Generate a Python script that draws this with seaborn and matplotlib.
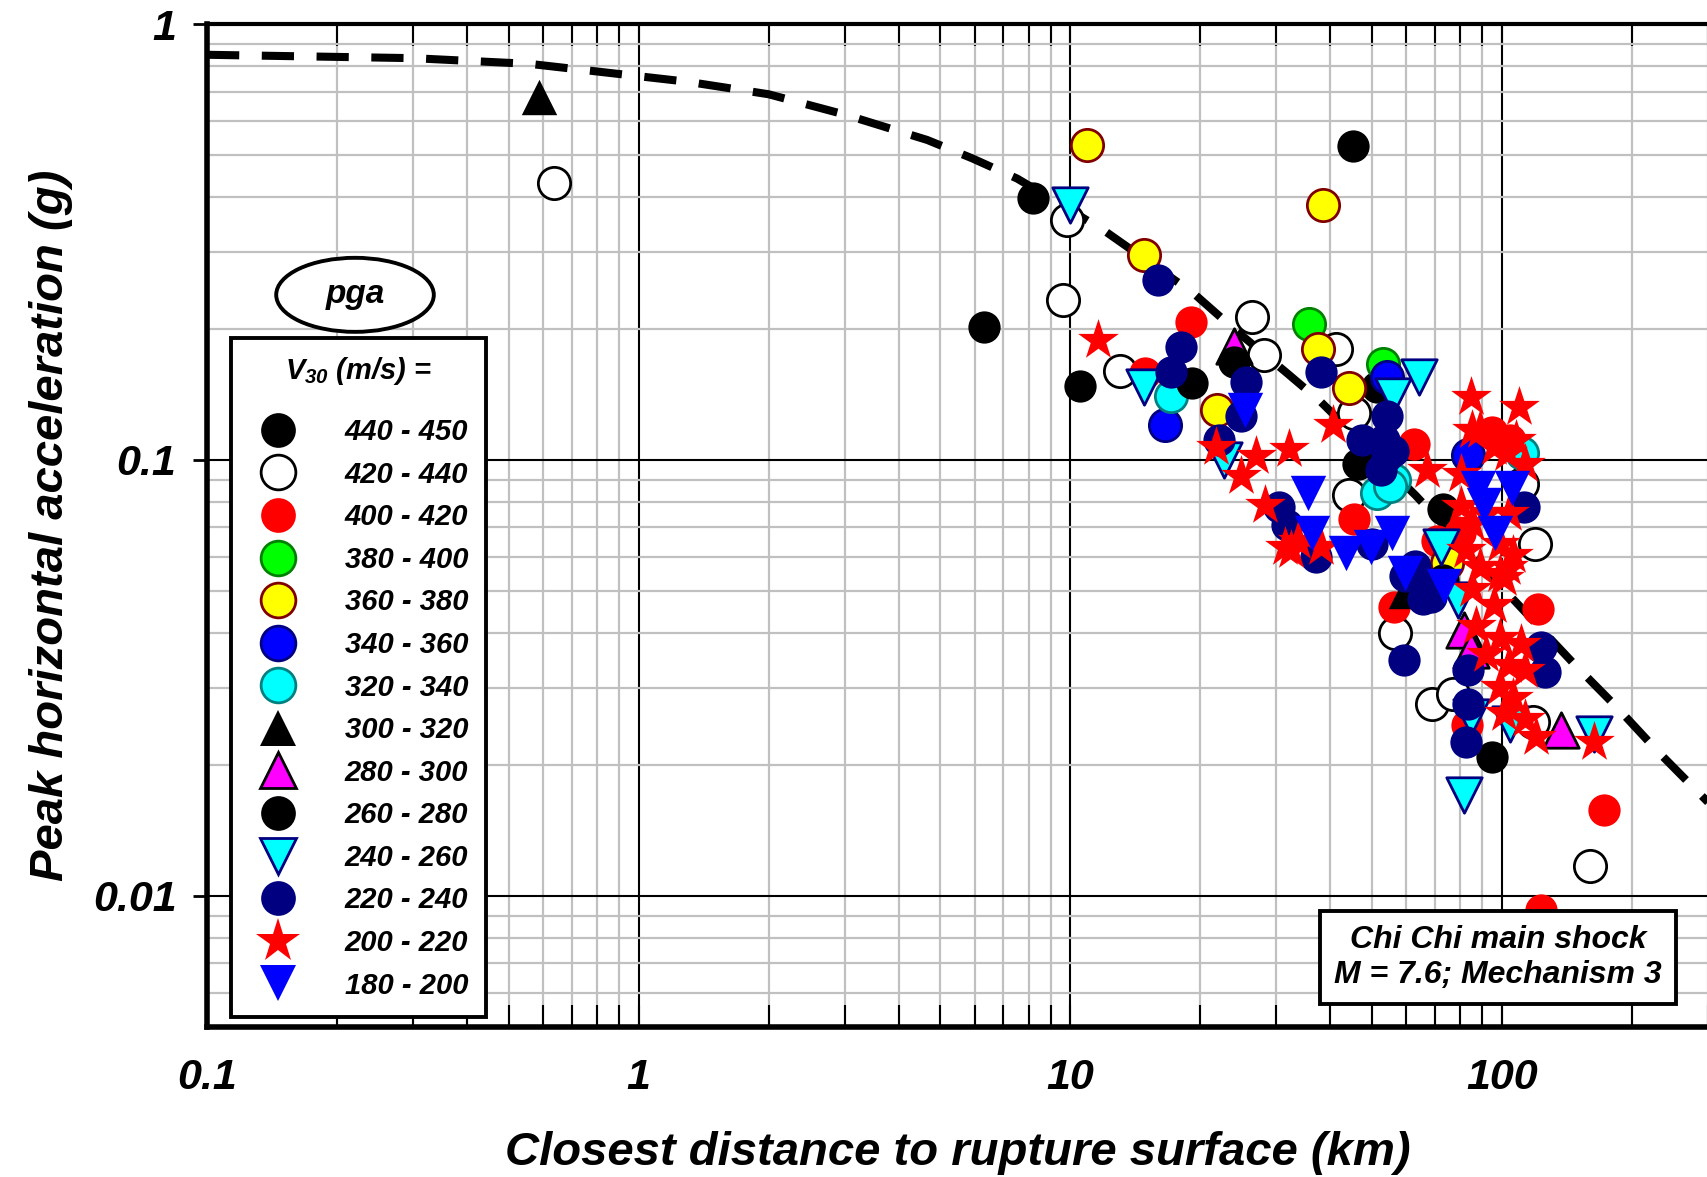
import numpy as np
import matplotlib
matplotlib.use('Agg')
import matplotlib.pyplot as plt
import seaborn as sns
from matplotlib.lines import Line2D
from matplotlib.patches import Ellipse
from matplotlib.ticker import LogLocator, FixedLocator, FixedFormatter, NullFormatter

# ---------------- data ----------------
x_ticks = [0.1, 1, 10, 100]
x_tick_labels = ['0.1', '1', '10', '100']
y_ticks = [0.01, 0.1, 1]
y_tick_labels = ['0.01', '0.1', '1']

dist_curve = [0.1, 0.3, 0.56, 1.3, 2.0, 3.0, 4.66, 5.92, 7.53, 10.0, 12.07, 19.3, 23.9, 31.8, 38.0,
              63.0, 100.0, 147.0, 185.0, 230.0, 300.0]
pga_curve = [0.85, 0.835, 0.81, 0.737, 0.69, 0.62, 0.542, 0.492, 0.442, 0.374, 0.334, 0.241, 0.20, 0.158,
             0.136, 0.083, 0.051, 0.034, 0.027, 0.0214, 0.0164]

d_440 = [45.2, 6.3, 10.5, 51.4, 72.8]
p_440 = [0.526, 0.202, 0.148, 0.147, 0.077]

d_420 = [0.636, 9.8, 9.6, 13.0, 26.4, 28.1, 41.2, 45.4, 44.2, 56.6, 69.0, 77.0, 111.4, 119.0, 160.0, 118.0]
p_420 = [0.431, 0.355, 0.233, 0.160, 0.213, 0.174, 0.180, 0.128, 0.083, 0.040, 0.0276, 0.029, 0.088, 0.064,
         0.0117, 0.025]

d_400 = [19.0, 14.9, 62.5, 45.4, 56.3, 70.7, 95.0, 104.6, 120.9, 83.0, 172.0, 123.0, 80.0]
p_400 = [0.207, 0.158, 0.109, 0.073, 0.046, 0.065, 0.116, 0.111, 0.0456, 0.0246, 0.0157, 0.0093, 0.068]

d_380 = [35.7, 53.0]
p_380 = [0.205, 0.166]

d_360 = [10.9, 38.4, 14.8, 37.5, 44.2, 21.9, 74.6]
p_360 = [0.527, 0.384, 0.295, 0.180, 0.146, 0.130, 0.058]

d_340 = [16.6, 54.2, 83.2]
p_340 = [0.120, 0.155, 0.1025]

d_320 = [17.1, 51.2, 56.3, 111.4, 55.0]
p_320 = [0.140, 0.084, 0.090, 0.1035, 0.087]

d_300 = [0.588, 60.0]
p_300 = [0.68, 0.050]

d_280 = [24.0, 81.7, 84.7, 137.0]
p_280 = [0.183, 0.0407, 0.0366, 0.024]

d_260 = [8.2, 19.1, 24.0, 46.5, 95.0, 73.0]
p_260 = [0.398, 0.150, 0.168, 0.098, 0.0208, 0.053]

d_240 = [10.0, 14.8, 22.7, 56.0, 64.3, 72.3, 78.9, 84.7, 104.6, 163.0, 81.7]
p_240 = [0.384, 0.147, 0.100, 0.140, 0.155, 0.063, 0.0476, 0.0257, 0.0248, 0.0235, 0.017]

d_220 = [16.0, 18.0, 17.1, 25.5, 24.8, 22.1, 38.0, 30.4, 31.8, 37.0, 54.2, 47.5, 53.3, 54.0, 52.5, 56.0,
         59.3, 59.6, 68.7, 63.0, 83.2, 83.2, 82.5, 123.0, 126.0, 112.4, 50.0, 68.4, 65.5]
p_220 = [0.258, 0.182, 0.159, 0.151, 0.126, 0.111, 0.159, 0.078, 0.071, 0.060, 0.126, 0.111, 0.111, 0.102,
         0.095, 0.105, 0.0347, 0.0543, 0.0507, 0.057, 0.033, 0.0276, 0.0225, 0.0372, 0.0327, 0.078, 0.064,
         0.0485, 0.048]

d_200 = [11.6, 21.8, 26.9, 32.1, 24.8, 28.3, 33.6, 31.5, 38.0, 40.5, 67.1, 84.7, 109.6, 85.3, 108.0,
         102.8, 163.0, 80.4, 85.0, 91.7, 104.0, 98.8, 82.4, 106.0, 89.1, 101.0, 85.0, 95.6, 87.0, 98.8,
         110.6, 91.6, 104.0, 112.8, 98.8, 106.0, 101.0, 112.8, 120.0, 80.4, 89.0, 95.6, 112.8, 32.4,
         99.0, 103.0]
p_200 = [0.188, 0.107, 0.102, 0.106, 0.092, 0.079, 0.065, 0.063, 0.063, 0.120, 0.095, 0.1395, 0.132, 0.117,
         0.111, 0.1035, 0.0225, 0.0782, 0.0718, 0.0757, 0.0757, 0.064, 0.0623, 0.0604, 0.0569, 0.0537,
         0.0507, 0.0465, 0.0415, 0.039, 0.0379, 0.0358, 0.0338, 0.0329, 0.0302, 0.0285, 0.0262, 0.0254,
         0.0232, 0.093, 0.117, 0.107, 0.098, 0.062, 0.0548, 0.0568]

d_180 = [25.4, 35.5, 36.2, 43.6, 49.6, 55.5, 59.6, 73.5, 88.1, 105.2, 96.5, 90.7]
p_180 = [0.130, 0.084, 0.068, 0.061, 0.063, 0.068, 0.055, 0.0515, 0.086, 0.086, 0.068, 0.079]

labels = ['440 - 450', '420 - 440', '400 - 420', '380 - 400', '360 - 380', '340 - 360', '320 - 340',
          '300 - 320', '280 - 300', '260 - 280', '240 - 260', '220 - 240', '200 - 220', '180 - 200']
dists = [d_440, d_420, d_400, d_380, d_360, d_340, d_320, d_300, d_280, d_260, d_240, d_220, d_200, d_180]
pgas = [p_440, p_420, p_400, p_380, p_360, p_340, p_320, p_300, p_280, p_260, p_240, p_220, p_200, p_180]

# ---------------- styles ----------------
styles = [
    # marker, face, edge, lw, s, legend markersize
    ('o', 'black', 'black', 0.0, 540, 25),
    ('o', 'white', 'black', 2.0, 540, 25),
    ('o', '#ff0000', '#ff0000', 0.0, 540, 25),
    ('o', '#00ff00', '#008000', 2.0, 540, 25),
    ('o', '#ffff00', '#800000', 2.0, 540, 25),
    ('o', '#0000ff', '#000080', 2.0, 540, 25),
    ('o', '#00ffff', '#008080', 2.0, 540, 25),
    ('^', 'black', 'black', 0.0, 650, 26),
    ('^', '#ff00ff', 'black', 2.0, 650, 26),
    ('o', 'black', 'black', 0.0, 540, 25),
    ('v', '#00ffff', '#000080', 2.0, 650, 26),
    ('o', '#000080', '#000080', 0.0, 540, 25),
    ('*', '#ff0000', '#ff0000', 0.0, 950, 33),
    ('v', '#0000ff', '#0000ff', 0.0, 650, 26),
]

sns.set_style('white')
plt.rcParams['font.family'] = ['Liberation Sans', 'DejaVu Sans']
plt.rcParams['font.weight'] = 'bold'
plt.rcParams['font.style'] = 'italic'
plt.rcParams['axes.labelweight'] = 'bold'
plt.rcParams['text.color'] = 'black'
plt.rcParams['axes.labelcolor'] = 'black'
plt.rcParams['xtick.color'] = 'black'
plt.rcParams['ytick.color'] = 'black'
plt.rcParams['mathtext.fontset'] = 'custom'
plt.rcParams['mathtext.it'] = 'Liberation Sans:italic:bold'
plt.rcParams['mathtext.rm'] = 'Liberation Sans:italic:bold'
plt.rcParams['mathtext.bf'] = 'Liberation Sans:italic:bold'

fig = plt.figure(figsize=(17.08, 11.77), dpi=100)
ax = fig.add_axes([0.1212, 0.1274, 0.8788, 0.8522])
ax.set_xscale('log')
ax.set_yscale('log')

# dashed model curve
sns.lineplot(x=dist_curve, y=pga_curve, ax=ax, color='black', linewidth=5.8,
             linestyle=(0, (4.0, 2.8)), sort=False, estimator=None, zorder=2.5)

# data groups
for i, (lab, d, p, st) in enumerate(zip(labels, dists, pgas, styles)):
    mk, fc, ec, lw, s, ms = st
    sns.scatterplot(x=d, y=p, ax=ax, marker=mk, color=fc, edgecolor=ec, linewidth=lw,
                    s=s, zorder=3 + i * 0.1, legend=False)

ax.set_xlim(0.1, 300)
ax.set_ylim(0.005, 1)

ax.xaxis.set_major_locator(FixedLocator(x_ticks))
ax.xaxis.set_major_formatter(FixedFormatter(x_tick_labels))
ax.xaxis.set_minor_locator(LogLocator(base=10, subs=np.arange(2, 10), numticks=30))
ax.xaxis.set_minor_formatter(NullFormatter())
ax.yaxis.set_major_locator(FixedLocator(y_ticks))
ax.yaxis.set_major_formatter(FixedFormatter(y_tick_labels))
ax.yaxis.set_minor_locator(LogLocator(base=10, subs=np.arange(2, 10), numticks=30))
ax.yaxis.set_minor_formatter(NullFormatter())

ax.grid(which='minor', color='#c0c0c0', linewidth=1.6, zorder=0)
ax.grid(which='major', color='black', linewidth=1.5, zorder=1)
ax.set_axisbelow(True)

ax.tick_params(axis='x', which='both', direction='in', top=True, bottom=True, length=16, width=1.5,
               labelsize=31, pad=22)
ax.tick_params(axis='y', which='major', direction='out', left=True, right=False, length=10, width=2,
               labelsize=31, pad=12)
ax.tick_params(axis='y', which='minor', length=0)

for side in ['left', 'bottom']:
    ax.spines[side].set_linewidth(4)
    ax.spines[side].set_color('black')
ax.spines['top'].set_linewidth(3)
ax.spines['top'].set_color('black')
ax.spines['right'].set_visible(False)

ax.set_xlabel('Closest distance to rupture surface (km)', fontsize=34, fontweight='bold', labelpad=24)
ax.set_ylabel('Peak horizontal acceleration (g)', fontsize=34, fontweight='bold', labelpad=14)

# legend
handles = []
for lab, st in zip(labels, styles):
    mk, fc, ec, lw, s, ms = st
    handles.append(Line2D([], [], linestyle='None', marker=mk, markersize=ms, markerfacecolor=fc,
                          markeredgecolor=ec, markeredgewidth=lw if lw > 0 else 0, label=lab))
leg = ax.legend(handles=handles, loc='upper left', bbox_to_anchor=(0.016, 0.687), frameon=True,
                fancybox=False, edgecolor='black', framealpha=1, fontsize=21,
                title='$V_{30}$ (m/s) =', title_fontsize=21, labelspacing=0.5, handletextpad=1.3,
                borderpad=0.6, handlelength=2.0, borderaxespad=0)
leg.get_frame().set_linewidth(2.8)
leg.set_zorder(20)
try:
    leg._legend_box.sep = 22
except Exception:
    pass

# pga ellipse
ell = Ellipse((0.0986, 0.730), 0.105, 0.0738, transform=ax.transAxes, facecolor='white',
              edgecolor='black', linewidth=2.8, zorder=21)
ax.add_patch(ell)
ax.text(0.0986, 0.730, 'pga', transform=ax.transAxes, ha='center', va='center', fontsize=24, zorder=22)

# info box
ax.text(0.86, 0.0693, 'Chi Chi main shock\nM = 7.6; Mechanism 3', transform=ax.transAxes,
        ha='center', va='center', fontsize=23, linespacing=1.2, zorder=22,
        bbox=dict(boxstyle='square,pad=0.45', facecolor='white', edgecolor='black', linewidth=2.8))

fig.savefig('out.png', dpi=100)
